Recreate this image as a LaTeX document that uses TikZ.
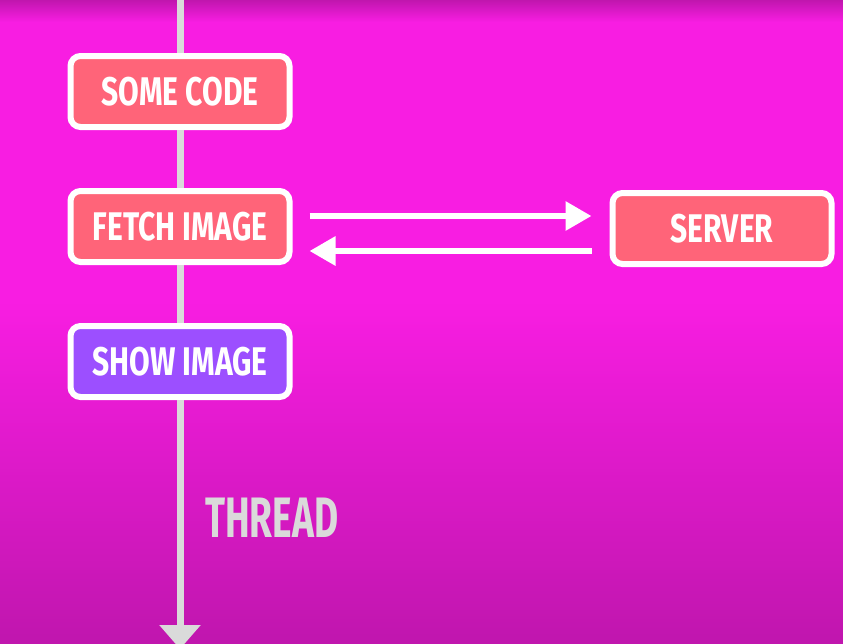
\documentclass[tikz,border=0pt]{standalone}
\usepackage{fontspec}
\newfontfamily\cardfont[FakeStretch=0.75]{Fira Sans}
\newfontfamily\threadfont[FakeStretch=0.65]{Fira Sans}
\definecolor{BGmagenta}{HTML}{F81DE2}
\definecolor{BGdeep}{HTML}{C016AE}
\definecolor{BOXcoral}{HTML}{FF6479}
\definecolor{BOXviolet}{HTML}{9C4FFF}
\definecolor{LINEgray}{HTML}{DADADA}
\usetikzlibrary{arrows.meta, positioning}

\begin{document}
\begin{tikzpicture}[
      x=1pt, y=-1pt,
      box/.style={draw=white, line width=6pt, rounded corners=10pt, minimum width=219pt,
                  minimum height=71pt, inner sep=0pt, text=white,
                  font=\cardfont\bfseries\fontsize{40}{40}\selectfont},
      flow/.style={-{Triangle[length=26pt, width=28pt]}, line width=6pt, white},
      thread/.style={-{Triangle[length=24pt, width=40pt]}, line width=7pt, LINEgray}
   ]
      \clip (0,0) rectangle (843,643);
      \fill[BGmagenta] (0,0) rectangle (843,643);
      \shade[top color=BGdeep, bottom color=BGmagenta] (0,0) rectangle (843,22);
      \shade[top color=BGmagenta, bottom color=BGdeep] (0,300) rectangle (843,643);

      \node[box, fill=BOXcoral] (code) at (180,91.5) {SOME CODE};
      \node[box, fill=BOXcoral, below=58pt of code] (fetch) {FETCH IMAGE};
      \node[box, fill=BOXviolet, below=58pt of fetch] (show) {SHOW IMAGE};
      \node[box, fill=BOXcoral, right=317pt of fetch, yshift=-2pt] (server) {SERVER};
      \node[anchor=base west, inner sep=0pt, text=LINEgray,
            font=\threadfont\bfseries\fontsize{57}{57}\selectfont] (label) at (205,537) {THREAD};

      \coordinate (start) at (180,-5);
      \coordinate (finish) at (180,649);
      \draw[LINEgray, line width=7pt] (start) -- (code);
      \draw[LINEgray, line width=7pt] (code) -- (fetch);
      \draw[LINEgray, line width=7pt] (fetch) -- (show);
      \draw[thread] (show) -- (finish);

      \draw[flow] ([xshift=17pt, yshift=10.5pt]fetch.east) -- ([xshift=-18pt, yshift=12.5pt]server.west);
      \draw[flow] ([xshift=-18pt, yshift=-22.5pt]server.west) -- ([xshift=17pt, yshift=-24.5pt]fetch.east);
   \end{tikzpicture}
\end{document}
